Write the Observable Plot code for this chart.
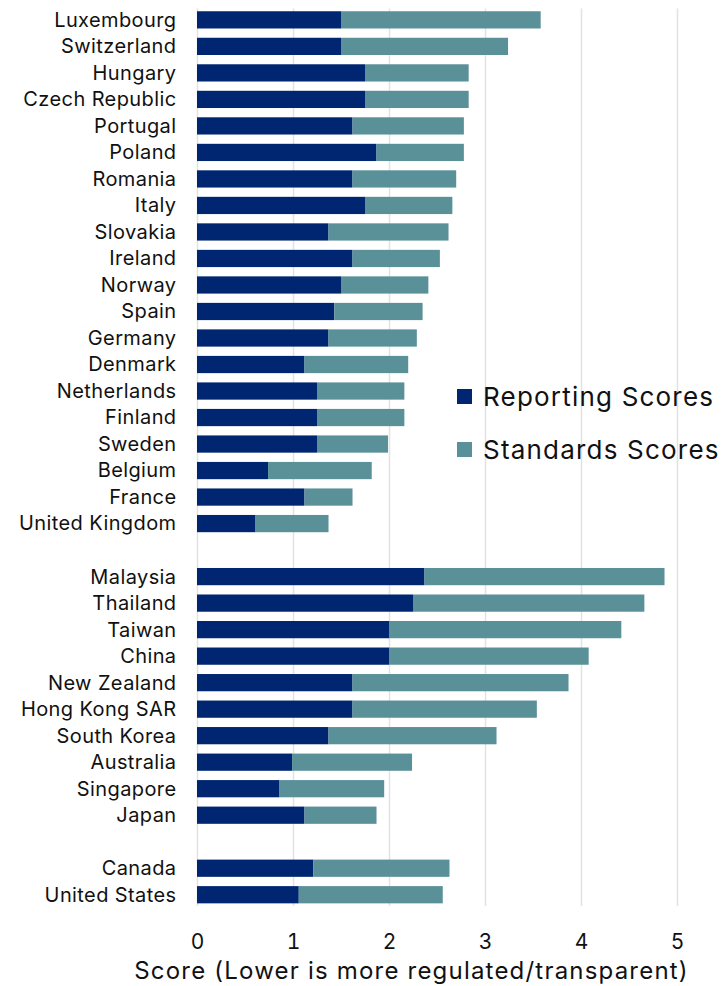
<!DOCTYPE html>
<html>
<head>
<meta charset="utf-8">
<script src="https://cdn.jsdelivr.net/npm/d3@7"></script>
<script src="https://cdn.jsdelivr.net/npm/@observablehq/plot@0.6"></script>
<style>
  html, body { margin: 0; padding: 0; background: #fff; }
  #wrap { position: relative; width: 724px; height: 986px; font-family: Inter, "DejaVu Sans", sans-serif; }
  #legend { position: absolute; left: 457px; top: 370px; font-size: 26px; letter-spacing: 1.2px; color: #111; }
  #legend .item { display: flex; align-items: center; height: 53px; }
  #legend .sw { width: 15px; height: 15px; margin-right: 11px; }
</style>
</head>
<body>
<div id="wrap"><div id="chart"></div><div id="legend"></div></div>
<script>
const countries = [
  "Luxembourg","Switzerland","Hungary","Czech Republic","Portugal","Poland","Romania","Italy",
  "Slovakia","Ireland","Norway","Spain","Germany","Denmark","Netherlands","Finland","Sweden",
  "Belgium","France","United Kingdom",
  "Malaysia","Thailand","Taiwan","China","New Zealand","Hong Kong SAR","South Korea",
  "Australia","Singapore","Japan",
  "Canada","United States"
];
const reporting = [
  1.50,1.50,1.75,1.75,1.62,1.87,1.62,1.75,
  1.37,1.62,1.50,1.43,1.37,1.12,1.25,1.25,1.25,
  0.74,1.12,0.61,
  2.37,2.25,2.00,2.00,1.62,1.62,1.37,
  0.99,0.86,1.12,
  1.21,1.06
];
const totals = [
  3.58,3.24,2.83,2.83,2.78,2.78,2.70,2.66,
  2.62,2.53,2.41,2.35,2.29,2.20,2.16,2.16,1.99,
  1.82,1.62,1.37,
  4.87,4.66,4.42,4.08,3.87,3.54,3.12,
  2.24,1.95,1.87,
  2.63,2.56
];
const standards = totals.map((t, i) => +(t - reporting[i]).toFixed(2));
const seriesNames = ["Reporting Scores", "Standards Scores"];
const seriesColors = ["#002672", "#5a9199"];
const xTicks = [0, 1, 2, 3, 4, 5];
const axisTitle = "Score (Lower is more regulated/transparent)";

// y order with blank gap rows between regions
const yOrder = [
  ...countries.slice(0, 20), "gap1",
  ...countries.slice(20, 30), "gap2",
  ...countries.slice(30)
];

const rows = countries.flatMap((c, i) => [
  {country: c, type: seriesNames[0], value: reporting[i]},
  {country: c, type: seriesNames[1], value: standards[i]}
]);

const chart = Plot.plot({
  width: 724,
  height: 986,
  marginLeft: 197,
  marginRight: 47,
  marginTop: 8.6,
  marginBottom: 80,
  style: {fontFamily: "Inter, 'DejaVu Sans', sans-serif", background: "#fff", color: "#111"},
  x: {domain: [0, 5], ticks: xTicks},
  y: {domain: yOrder, paddingInner: 0.35, paddingOuter: 0.1, round: false},
  color: {domain: seriesNames, range: seriesColors},
  marks: [
    Plot.gridX(xTicks, {stroke: "#e2e2e2", strokeOpacity: 1, strokeWidth: 1.5}),
    Plot.barX(rows, {y: "country", x: "value", fill: "type", order: seriesNames}),
    Plot.axisX(xTicks, {tickSize: 0, tickPadding: 28, fontSize: 21, label: null, fill: "#111"}),
    Plot.axisY({tickSize: 0, tickPadding: 21, fontSize: 20, label: null, fill: "#111",
      tickFormat: d => d.startsWith("gap") ? "" : d}),
    Plot.text([axisTitle], {text: d => d, frameAnchor: "bottom", dy: 72, dx: -26, fontSize: 24, fill: "#111"})
  ]
});
chart.querySelectorAll("g[aria-label='y-axis tick label'] text").forEach(t => t.style.letterSpacing = "0.4px");
chart.querySelectorAll("g[aria-label='text'] text").forEach(t => t.style.letterSpacing = "1.2px");
document.getElementById("chart").appendChild(chart);

const legend = document.getElementById("legend");
seriesNames.forEach((n, i) => {
  const item = document.createElement("div");
  item.className = "item";
  item.innerHTML = `<div class="sw" style="background:${seriesColors[i]}"></div><span>${n}</span>`;
  legend.appendChild(item);
});
</script>
</body>
</html>
